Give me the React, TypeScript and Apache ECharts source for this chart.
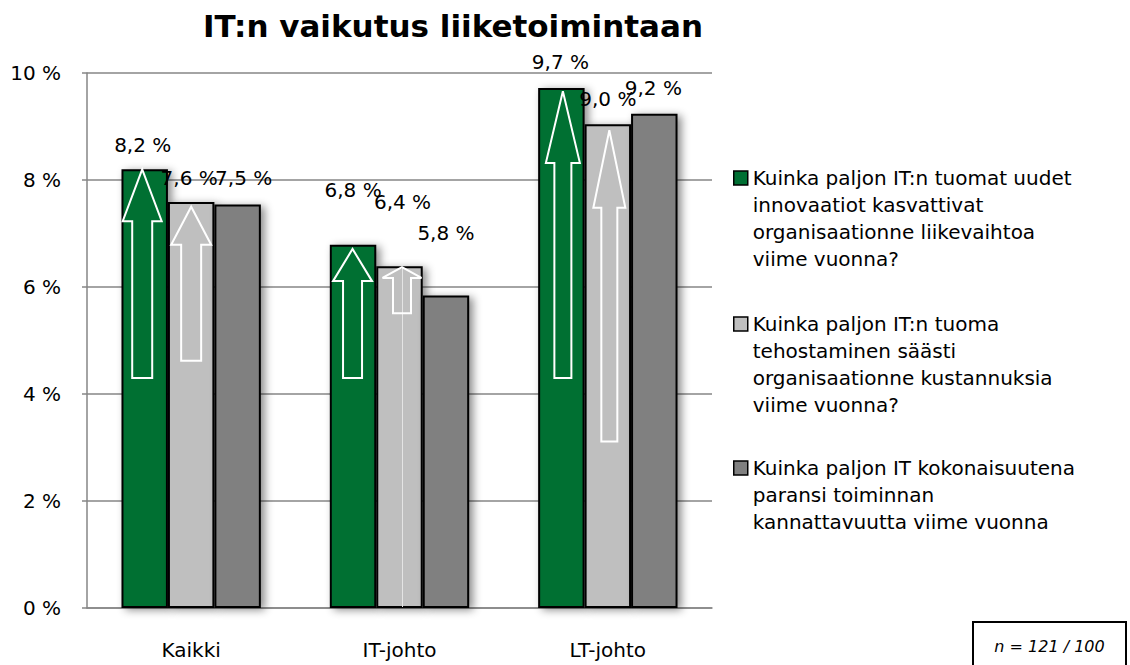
import React, { useEffect, useRef } from "react";
import * as echarts from "echarts";

const categories = ["Kaikki", "IT-johto", "LT-johto"];
const seriesNames = [
  "Kuinka paljon IT:n tuomat uudet innovaatiot kasvattivat organisaationne liikevaihtoa viime vuonna?",
  "Kuinka paljon IT:n tuoma tehostaminen säästi organisaationne kustannuksia viime vuonna?",
  "Kuinka paljon IT kokonaisuutena paransi toiminnan kannattavuutta viime vuonna",
];
const legendLines = [
  ["Kuinka paljon IT:n tuomat uudet", "innovaatiot kasvattivat", "organisaationne liikevaihtoa", "viime vuonna?"],
  ["Kuinka paljon IT:n tuoma", "tehostaminen säästi", "organisaationne kustannuksia", "viime vuonna?"],
  ["Kuinka paljon IT kokonaisuutena", "paransi toiminnan", "kannattavuutta viime vuonna"],
];
const innovationValues = [8.2, 6.79, 9.72];
const savingsValues = [7.59, 6.39, 9.04];
const profitabilityValues = [7.54, 5.84, 9.24];
const yMin = 0;
const yMax = 10;
const yInterval = 2;

// arrows: [categoryIndex, barSlot, bottomValue, headBaseValue, tipValue]
const arrowData = [
  [0, 0, 4.3, 7.23, 8.2],
  [0, 1, 4.62, 6.79, 7.5],
  [1, 0, 4.3, 6.11, 6.71],
  [1, 1, 5.51, 6.17, 6.37],
  [2, 0, 4.3, 8.32, 9.66],
  [2, 1, 3.11, 7.48, 8.93],
];
// thin guide line: [categoryIndex, barSlot, fromValue, toValue]
const guideLineData = [[1, 1, 0, 6.37]];

// drawing sizes (px) for the arrows
const arrowHeadW = [39, 40, 39, 39, 34, 32];
const arrowShaftW = [20, 20, 19, 18, 17, 16];
const arrowDx = [-2.5, 0, -0.5, 2.5, 1.5, 1.5];

// label distances / offsets per series (px)
const labelDist = [
  [14, 45, 16],
  [14, 54, 15],
  [17, 53, 16],
];
const labelDx = [
  [-2, 0, -1],
  [-2, 3, 0],
  [6, 0, -1],
];

const FONT = "DejaVu Sans";
const BAR_RATIO = 0.223;
const colors = ["#006f33", "#bfbfbf", "#808080"];

export default function App() {
  const ref = useRef<HTMLDivElement>(null);
  useEffect(() => {
    if (!ref.current) return;
    const chart = echarts.init(ref.current, undefined, { renderer: "svg" });
    const valueSets = [innovationValues, savingsValues, profitabilityValues];
    const fmt = (v: number) => v.toFixed(1).replace(".", ",") + " %";

    const barSeries = valueSets.map((vals, si) => ({
      type: "bar",
      name: seriesNames[si],
      barWidth: BAR_RATIO * 100 + "%",
      barGap: "0%",
      z: 2,
      itemStyle: {
        color: colors[si],
        borderColor: "#000",
        borderWidth: 2,
        shadowBlur: 8,
        shadowColor: "rgba(0,0,0,0.45)",
        shadowOffsetX: 4,
        shadowOffsetY: 2,
      },
      label: {
        show: true,
        position: "top",
        fontFamily: FONT,
        fontSize: 20,
        color: "#000",
        formatter: (p: any) => fmt(p.value),
      },
      data: vals.map((v, ci) => ({
        value: v,
        label: { distance: labelDist[si][ci], offset: [labelDx[si][ci], 0] },
      })),
    }));

    const arrowSeries = {
      type: "custom",
      name: "arrows",
      z: 5,
      silent: true,
      encode: { x: 0, y: [2, 3, 4] },
      data: arrowData,
      renderItem: (params: any, api: any) => {
        const i = params.dataIndex;
        const cat = api.value(0);
        const slot = api.value(1);
        const pB = api.coord([cat, api.value(2)]);
        const pH = api.coord([cat, api.value(3)]);
        const pT = api.coord([cat, api.value(4)]);
        const band = api.size([1, 0])[0];
        const barW = band * BAR_RATIO;
        const cx = pB[0] + (slot - 1) * barW + arrowDx[i];
        const hw = arrowHeadW[i] / 2;
        const sw = arrowShaftW[i] / 2;
        return {
          type: "polygon",
          shape: {
            points: [
              [cx - sw, pB[1]],
              [cx - sw, pH[1]],
              [cx - hw, pH[1]],
              [cx, pT[1]],
              [cx + hw, pH[1]],
              [cx + sw, pH[1]],
              [cx + sw, pB[1]],
            ],
          },
          style: { fill: "none", stroke: "#ffffff", lineWidth: 2 },
        };
      },
    };

    const guideSeries = {
      type: "custom",
      name: "guide",
      z: 4,
      silent: true,
      encode: { x: 0, y: [2, 3] },
      data: guideLineData,
      renderItem: (params: any, api: any) => {
        const cat = api.value(0);
        const slot = api.value(1);
        const p0 = api.coord([cat, api.value(2)]);
        const p1 = api.coord([cat, api.value(3)]);
        const band = api.size([1, 0])[0];
        const barW = band * BAR_RATIO;
        const cx = Math.round(p0[0] + (slot - 1) * barW + 2.5) + 0.5;
        return {
          type: "line",
          shape: { x1: cx, y1: p0[1] - 1, x2: cx, y2: p1[1] },
          style: { stroke: "#e4e4e4", lineWidth: 1 },
        };
      },
    };

    // the icon sits at the vertical middle of the text block, so blank lines
    // are put above the text to bring the first line level with the icon
    const legendTops = [83.5, 229.5, 400.5];
    const legends = seriesNames.map((n, i) => {
      const lines = legendLines[i];
      const pad = new Array(lines.length - 1).fill(" ").join("\n");
      return {
        show: true,
        orient: "vertical",
        left: 733,
        top: legendTops[i],
        padding: 0,
        itemWidth: 14,
        itemHeight: 14,
        icon: "rect",
        data: [n],
        formatter: () => pad + "\n" + lines.join("\n"),
        itemStyle: { borderColor: "#000", borderWidth: 1.5, shadowBlur: 0, shadowOffsetX: 0, shadowOffsetY: 0 },
        textStyle: { fontFamily: FONT, fontSize: 20, lineHeight: 27, color: "#000" },
        selectedMode: false,
      };
    });

    chart.setOption({
      animation: false,
      backgroundColor: "#ffffff",
      title: {
        text: "IT:n vaikutus liiketoimintaan",
        left: 203,
        top: 10,
        padding: 0,
        textStyle: { fontFamily: FONT, fontSize: 31, fontWeight: "bold", color: "#000" },
      },
      legend: legends,
      grid: { left: 87, right: 418, top: 73, bottom: 57, containLabel: false },
      xAxis: {
        type: "category",
        data: categories,
        axisLine: { show: true, lineStyle: { color: "#868686", width: 1.5 } },
        axisTick: { show: false },
        axisLabel: { fontFamily: FONT, fontSize: 20, color: "#000", margin: 32 },
      },
      yAxis: {
        type: "value",
        min: yMin,
        max: yMax,
        interval: yInterval,
        axisLine: { show: true, lineStyle: { color: "#868686", width: 1.5 } },
        axisTick: { show: true, length: 5, lineStyle: { color: "#868686", width: 1.5 } },
        splitLine: { show: true, lineStyle: { color: "#868686", width: 1.5 } },
        axisLabel: {
          fontFamily: FONT,
          fontSize: 20,
          color: "#000",
          margin: 26,
          formatter: (v: number) => v + " %",
        },
      },
      graphic: [
        {
          type: "group",
          left: 972,
          top: 621,
          children: [
            {
              type: "rect",
              shape: { x: 0, y: 0, width: 153, height: 60 },
              style: { fill: "#fff", stroke: "#000", lineWidth: 2 },
            },
            {
              type: "text",
              x: 76.5,
              y: 24,
              style: {
                text: "n = 121 / 100",
                fontFamily: FONT,
                fontStyle: "italic",
                fontSize: 16,
                fill: "#000",
                align: "center",
                verticalAlign: "middle",
              },
            },
          ],
        },
      ],
      series: [...barSeries, guideSeries, arrowSeries],
    });
    return () => chart.dispose();
  }, []);
  return (
    <div
      ref={ref}
      style={{ position: "absolute", left: 0, top: 0, width: 1130, height: 665 }}
    />
  );
}
